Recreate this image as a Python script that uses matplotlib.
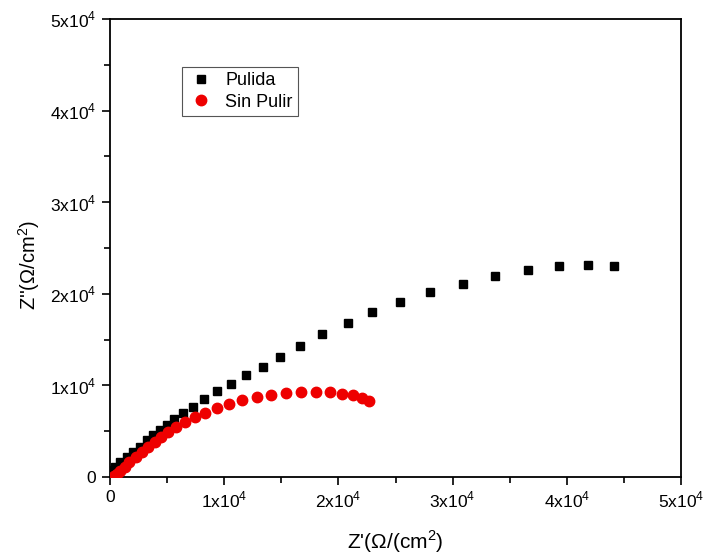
import matplotlib
matplotlib.use('Agg')
import matplotlib.pyplot as plt
from matplotlib.ticker import MultipleLocator, FuncFormatter

plt.rcParams['font.family'] = ['Liberation Sans', 'DejaVu Sans']

# Pulida (values in units of 1e3 ohm/cm^2)
pul_x = [0.26, 0.4, 0.9, 1.5, 2.0, 2.6, 3.2, 3.8, 4.4, 5.0, 5.6, 6.4, 7.3, 8.2, 9.4,
         10.6, 11.9, 13.4, 14.9, 16.6, 18.6, 20.8, 22.9, 25.4, 28.0, 30.9, 33.7,
         36.6, 39.3, 41.9, 44.1]
pul_y = [0.76, 1.1, 1.6, 2.2, 2.7, 3.3, 4.0, 4.6, 5.1, 5.7, 6.3, 7.0, 7.6, 8.5, 9.4,
         10.2, 11.1, 12.0, 13.1, 14.3, 15.6, 16.8, 18.0, 19.1, 20.2, 21.1, 21.9,
         22.6, 23.0, 23.1, 23.0]

# Sin Pulir
sp_x = [0.35, 0.6, 0.9, 1.3, 1.7, 2.3, 2.8, 3.3, 3.9, 4.5, 5.1, 5.8, 6.6, 7.4, 8.3,
        9.4, 10.4, 11.6, 12.9, 14.1, 15.4, 16.7, 18.0, 19.3, 20.3, 21.3, 22.1, 22.7]
sp_y = [0.1, 0.3, 0.65, 1.1, 1.6, 2.2, 2.7, 3.3, 3.8, 4.4, 4.9, 5.5, 6.0, 6.5, 7.0,
        7.5, 8.0, 8.4, 8.7, 8.9, 9.2, 9.3, 9.3, 9.3, 9.1, 8.9, 8.6, 8.3]

pul_x = [v * 1000 for v in pul_x]
pul_y = [v * 1000 for v in pul_y]
sp_x = [v * 1000 for v in sp_x]
sp_y = [v * 1000 for v in sp_y]

fig = plt.figure(figsize=(7.03, 5.56), dpi=100)
ax = fig.add_axes([0.1565, 0.142, 0.8122, 0.824])

ax.plot(pul_x, pul_y, 's', color='black', markersize=6, label='Pulida', zorder=3)
ax.plot(sp_x, sp_y, 'o', color='#ee0000', markersize=7.5, label='Sin Pulir', zorder=3)

ax.set_xlim(0, 50000)
ax.set_ylim(0, 50000)


def fmt(v, pos):
    n = int(round(v / 10000))
    if n == 0:
        return '0'
    return r'%dx10$^{\mathregular{4}}$' % n


for axis in (ax.xaxis, ax.yaxis):
    axis.set_major_locator(MultipleLocator(10000))
    axis.set_minor_locator(MultipleLocator(5000))
    axis.set_major_formatter(FuncFormatter(fmt))

ax.tick_params(which='major', direction='out', length=6, width=1.2, labelsize=12.5)
ax.tick_params(which='minor', direction='out', length=4, width=1.2)
ax.tick_params(axis='x', pad=3)
ax.tick_params(axis='y', pad=4)
for s in ax.spines.values():
    s.set_linewidth(1.3)

ax.set_xlabel("Z'(Ω/(cm$^{\\mathregular{2}}$)", fontsize=15)
ax.set_ylabel("Z''(Ω/cm$^{\\mathregular{2}}$)", fontsize=14.5)
ax.xaxis.set_label_coords(0.499, -0.112)
ax.yaxis.set_label_coords(-0.12, 0.463)

leg = ax.legend(loc='upper left', bbox_to_anchor=(0.11, 0.915), fontsize=13,
                fancybox=False, framealpha=1, edgecolor='#555555',
                handletextpad=0.6, borderpad=0.3, handlelength=1.5,
                labelspacing=0.25)
leg.get_frame().set_linewidth(0.8)

fig.savefig('out.png', dpi=100)
